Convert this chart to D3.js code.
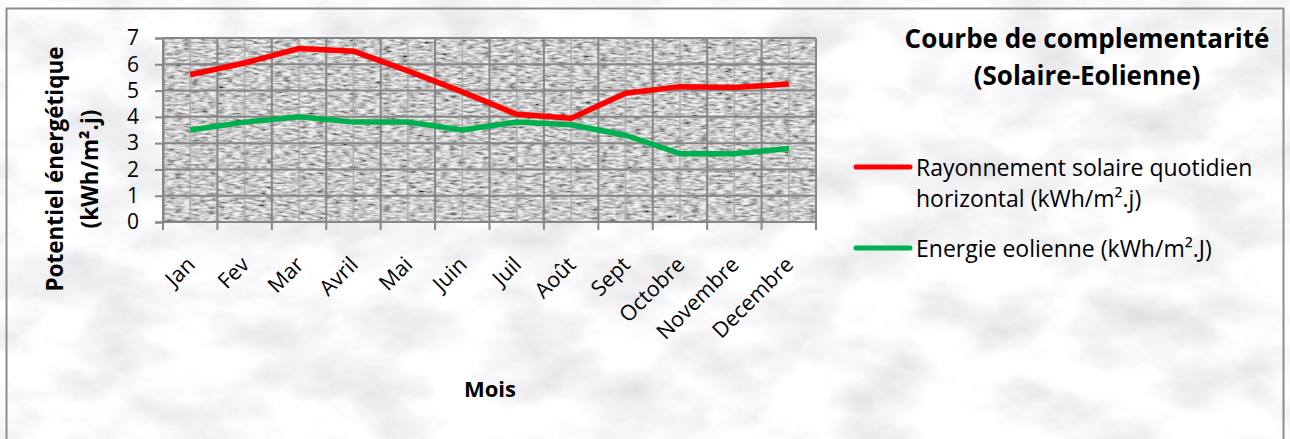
<!DOCTYPE html>
<html>
<head>
<meta charset="utf-8">
<script src="https://cdn.jsdelivr.net/npm/d3@7"></script>
<style>
  html, body { margin: 0; padding: 0; background: #fff; }
  svg { display: block; }
  text { font-family: "Open Sans", Lato, sans-serif; fill: #000; }
</style>
</head>
<body>
<div id="chart"></div>
<script>
// Data
const months = ['Jan', 'Fev', 'Mar', 'Avril', 'Mai', 'Juin', 'Juil', 'Août', 'Sept', 'Octobre', 'Novembre', 'Decembre'];
const solaire = [5.6, 6.05, 6.6, 6.5, 5.75, 4.95, 4.1, 3.95, 4.9, 5.15, 5.12, 5.25];
const eolien = [3.5, 3.8, 4.0, 3.8, 3.8, 3.5, 3.8, 3.7, 3.3, 2.6, 2.6, 2.8];
const yTicks = [0, 1, 2, 3, 4, 5, 6, 7];
const seriesNames = ['Rayonnement solaire quotidien|horizontal (kWh/m².j)', 'Energie eolienne (kWh/m².J)'];
const seriesColors = ['#ff0000', '#00b050'];

const width = 1290;
const height = 439;
const plot = { left: 163, right: 816, top: 38, bottom: 222 };

const svg = d3.select('#chart')
  .append('svg')
  .attr('width', width)
  .attr('height', height);

// textures: marble for the page, grey speckle for the plot area
const defs = svg.append('defs');
const marble = defs.append('filter').attr('id', 'marble')
  .attr('x', 0).attr('y', 0).attr('width', '100%').attr('height', '100%');
marble.append('feTurbulence')
  .attr('type', 'fractalNoise')
  .attr('baseFrequency', '0.012 0.02')
  .attr('numOctaves', 5)
  .attr('seed', 7);
marble.append('feColorMatrix')
  .attr('type', 'matrix')
  .attr('values', '0.5 0 0 0 0.69  0.5 0 0 0 0.69  0.5 0 0 0 0.71  0 0 0 0 1');

const speckle = defs.append('filter').attr('id', 'speckle')
  .attr('x', 0).attr('y', 0).attr('width', '100%').attr('height', '100%');
speckle.append('feTurbulence')
  .attr('type', 'fractalNoise')
  .attr('baseFrequency', '0.12 0.45')
  .attr('numOctaves', 2)
  .attr('seed', 3);
speckle.append('feColorMatrix')
  .attr('type', 'matrix')
  .attr('values', '1.8 0 0 0 -0.25  1.8 0 0 0 -0.25  1.8 0 0 0 -0.25  0 0 0 0 1');

svg.append('rect')
  .attr('width', width).attr('height', height)
  .attr('filter', 'url(#marble)');

// outer frame
svg.append('rect')
  .attr('x', 6.5).attr('y', 8.5)
  .attr('width', 1277).attr('height', 440)
  .attr('fill', 'none')
  .attr('stroke', '#8c8c8c')
  .attr('stroke-width', 2);

const x = d3.scaleBand()
  .domain(months)
  .range([plot.left, plot.right])
  .padding(0);

const y = d3.scaleLinear()
  .domain([0, 7])
  .range([plot.bottom, plot.top]);

const cx = d => x(d) + x.bandwidth() / 2;

// plot area
svg.append('rect')
  .attr('x', plot.left).attr('y', plot.top)
  .attr('width', plot.right - plot.left).attr('height', plot.bottom - plot.top)
  .attr('filter', 'url(#speckle)');
svg.append('rect')
  .attr('x', plot.left).attr('y', plot.top)
  .attr('width', plot.right - plot.left).attr('height', plot.bottom - plot.top)
  .attr('fill', '#aaaaaa')
  .attr('opacity', 0.2);

// minor vertical gridlines at category centres
svg.append('g').selectAll('line')
  .data(months)
  .enter().append('line')
  .attr('x1', d => cx(d)).attr('x2', d => cx(d))
  .attr('y1', plot.top).attr('y2', plot.bottom)
  .attr('stroke', '#adadad').attr('stroke-width', 1.5);

// major vertical gridlines at category boundaries
const bounds = months.map(d => x(d)).concat([plot.right]);
svg.append('g').selectAll('line')
  .data(bounds)
  .enter().append('line')
  .attr('x1', d => d).attr('x2', d => d)
  .attr('y1', plot.top).attr('y2', plot.bottom + 8)
  .attr('stroke', '#868686').attr('stroke-width', 2);

// horizontal gridlines
svg.append('g').selectAll('line')
  .data(yTicks)
  .enter().append('line')
  .attr('x1', plot.left).attr('x2', plot.right)
  .attr('y1', d => y(d)).attr('y2', d => y(d))
  .attr('stroke', '#868686').attr('stroke-width', 2);

// y axis
const yAxis = svg.append('g')
  .attr('transform', `translate(${plot.left},0)`)
  .call(d3.axisLeft(y).tickValues(yTicks).tickSize(8).tickPadding(16).tickFormat(d3.format('d')));
yAxis.select('.domain').attr('stroke', '#868686').attr('stroke-width', 2);
yAxis.selectAll('.tick line').attr('stroke', '#868686').attr('stroke-width', 2);
yAxis.selectAll('.tick text')
  .attr('font-size', 21)
  .attr('font-family', '"Open Sans", sans-serif')
  .attr('fill', '#000');

// x axis labels
svg.append('g').selectAll('text')
  .data(months)
  .enter().append('text')
  .attr('transform', d => `translate(${cx(d) + 6},${plot.bottom + 44}) rotate(-45)`)
  .attr('text-anchor', 'end')
  .attr('font-size', 21.5)
  .text(d => d);

// lines
const line = d3.line()
  .x((d, i) => cx(months[i]))
  .y(d => y(d));

[solaire, eolien].forEach((s, i) => {
  svg.append('path')
    .datum(s)
    .attr('d', line)
    .attr('fill', 'none')
    .attr('stroke', seriesColors[i])
    .attr('stroke-width', 5.5)
    .attr('stroke-linejoin', 'round');
});

// axis titles
const yTitle = svg.append('text')
  .attr('transform', 'translate(63,169) rotate(-90)')
  .attr('text-anchor', 'middle')
  .attr('font-size', 22.5)
  .attr('font-weight', 'bold');
yTitle.append('tspan').attr('x', 0).attr('dy', 0).text('Potentiel énergétique');
yTitle.append('tspan').attr('x', 0).attr('dy', 35).text('(kWh/m².j)');

svg.append('text')
  .attr('x', 490).attr('y', 397)
  .attr('text-anchor', 'middle')
  .attr('font-size', 22)
  .attr('font-weight', 'bold')
  .text('Mois');

// title
const title = svg.append('text')
  .attr('x', 1087).attr('y', 48)
  .attr('text-anchor', 'middle')
  .attr('font-size', 26)
  .attr('font-weight', 'bold');
title.append('tspan').attr('x', 1087).attr('dy', 0).text('Courbe de complementarité');
title.append('tspan').attr('x', 1087).attr('dy', 37).text('(Solaire-Eolienne)');

// legend
const legendY = [167, 248];
seriesNames.forEach((name, i) => {
  const g = svg.append('g').attr('transform', `translate(856,${legendY[i]})`);
  g.append('line')
    .attr('x1', 0).attr('x2', 54)
    .attr('stroke', seriesColors[i])
    .attr('stroke-width', 5)
    .attr('stroke-linecap', 'round');
  const t = g.append('text')
    .attr('x', 60).attr('y', 9)
    .attr('font-size', 23);
  name.split('|').forEach((part, j) => {
    t.append('tspan').attr('x', 60).attr('dy', j === 0 ? 0 : 31).text(part);
  });
});
</script>
</body>
</html>
